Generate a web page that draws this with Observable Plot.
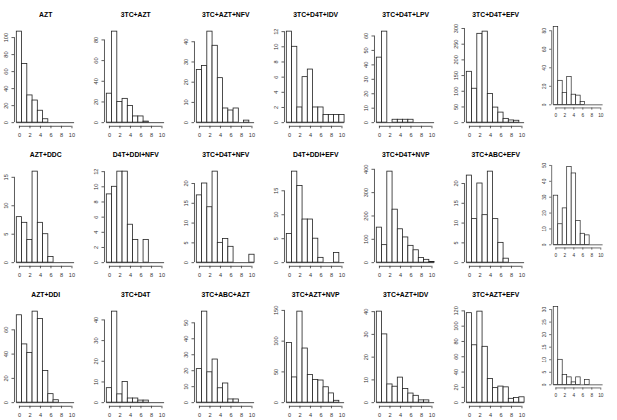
<!DOCTYPE html>
<html><head><meta charset="utf-8">
<script src="https://cdn.jsdelivr.net/npm/d3@7"></script>
<script src="https://cdn.jsdelivr.net/npm/@observablehq/plot@0.6"></script>
<style>
html,body{margin:0;padding:0;background:#fff;}
#grid{position:relative;width:617px;height:420px;overflow:hidden;background:#fff;}
#grid>div{position:absolute;}
</style></head><body><div id="grid"></div>
<script>
// Histogram bins (values centred on integers 0..10) and x tick labels
const bins = [0,1,2,3,4,5,6,7,8,9,10];
const xTicks = [0,2,4,6,8,10];

// Panel titles (row by row, 7 per row)
const titles = [
  "AZT","3TC+AZT","3TC+AZT+NFV","3TC+D4T+IDV","3TC+D4T+LPV","3TC+D4T+EFV","",
  "AZT+DDC","D4T+DDI+NFV","3TC+D4T+NFV","D4T+DDI+EFV","3TC+D4T+NVP","3TC+ABC+EFV","",
  "AZT+DDI","3TC+D4T","3TC+ABC+AZT","3TC+AZT+NVP","3TC+AZT+IDV","3TC+AZT+EFV",""
];

// Counts per bin
const cAZT        = [107,69,32,26,14,4,0,0,0,0,0];
const c3TC_AZT    = [28,88,20,23,16,6,6,1,0,0,0];
const c3TC_AZT_NFV= [26,28,45,38,22,7,6,7,0,1,0];
const c3TC_D4T_IDV= [12,10,2,6,7,2,2,1,1,1,1];
const c3TC_D4T_LPV= [45,63,0,2,2,2,2,0,0,0,0];
const c3TC_D4T_EFV= [162,108,283,290,91,48,32,12,7,6,0];
const cRow1Extra  = [84,26,13,30,11,10,3,0,0,0,0];
const cAZT_DDC    = [8,7,4,16,7,5,1,0,0,0,0];
const cD4T_DDI_NFV= [9,10,12,12,5,3,0,3,0,0,0];
const c3TC_D4T_NFV= [17,20,14,23,5,6,4,0,0,0,2];
const cD4T_DDI_EFV= [6,19,16,9,9,5,1,0,0,2,0];
const c3TC_D4T_NVP= [150,75,390,227,143,108,72,53,20,12,3];
const c3TC_ABC_EFV= [22,11,20,12,23,11,5,1,0,0,0];
const cRow2Extra  = [31,13,23,49,45,15,7,6,0,0,0];
const cAZT_DDI    = [72,48,41,75,69,26,7,2,0,0,0];
const c3TC_D4T    = [7,44,4,10,2,2,1,1,0,0,0];
const c3TC_ABC_AZT= [21,57,19,27,9,12,2,2,0,0,0];
const c3TC_AZT_NVP= [97,41,148,88,45,37,36,25,15,3,0];
const c3TC_AZT_IDV= [40,30,8,7,11,6,4,3,1,1,0];
const c3TC_AZT_EFV= [117,75,119,73,31,19,21,20,5,6,7];
const cRow3Extra  = [31,10,4,3,1,3,0,2,0,0,0];

// y tick labels per panel
const yt1 = [0,20,40,60,80,100];
const yt2 = [0,20,40,60,80];
const yt3 = [0,10,20,30,40];
const yt4 = [0,2,4,6,8,10,12];
const yt5 = [0,10,20,30,40,50,60];
const yt6 = [0,50,100,150,200,250,300];
const yt7 = [0,20,40,60,80];
const yt8 = [0,5,10,15];
const yt9 = [0,2,4,6,8,10,12];
const yt10 = [0,5,10,15,20];
const yt11 = [0,5,10,15];
const yt12 = [0,100,200,300,400];
const yt13 = [0,5,10,15,20];
const yt14 = [0,10,20,30,40,50];
const yt15 = [0,20,40,60];
const yt16 = [0,10,20,30,40];
const yt17 = [0,10,20,30,40,50];
const yt18 = [0,50,100,150];
const yt19 = [0,10,20,30,40];
const yt20 = [0,20,40,60,80,100,120];
const yt21 = [0,5,10,15,20,25,30];

const countsList = [cAZT,c3TC_AZT,c3TC_AZT_NFV,c3TC_D4T_IDV,c3TC_D4T_LPV,c3TC_D4T_EFV,cRow1Extra,
  cAZT_DDC,cD4T_DDI_NFV,c3TC_D4T_NFV,cD4T_DDI_EFV,c3TC_D4T_NVP,c3TC_ABC_EFV,cRow2Extra,
  cAZT_DDI,c3TC_D4T,c3TC_ABC_AZT,c3TC_AZT_NVP,c3TC_AZT_IDV,c3TC_AZT_EFV,cRow3Extra];
const yTicksList = [yt1,yt2,yt3,yt4,yt5,yt6,yt7,yt8,yt9,yt10,yt11,yt12,yt13,yt14,yt15,yt16,yt17,yt18,yt19,yt20,yt21];

// layout
const ML = 12, MR = 14, MT = 27.5, MB = 14.2;
const W = 88.4, H = 140;
const colPitch = 89.9, rowPitch = 139.85;
const grid = document.getElementById("grid");
const font = "'Liberation Sans', Arial, Helvetica, sans-serif";

titles.forEach((title, i) => {
  const col = i % 7, row = Math.floor(i / 7);
  const counts = countsList[i];
  const yTicks = yTicksList[i];
  const max = d3.max(counts);
  const data = bins.map((b, j) => ({bin: b, count: counts[j]}));
  const lo = bins[0] - 0.5, hi = bins[bins.length - 1] + 0.5;
  const pad = 0.04 * (hi - lo);
  const xDomain = [lo - pad, hi + pad];
  const yDomain = [-0.04 * max, 1.04 * max];
  const marks = [
    Plot.ruleY([0], {x1: lo, x2: hi, stroke: "#222", strokeWidth: 0.8}),
    Plot.rectY(data, {x1: d => d.bin - 0.5, x2: d => d.bin + 0.5, y1: 0, y2: "count",
      fill: "white", stroke: "#222", strokeWidth: 0.8}),
    Plot.ruleY([yDomain[0]], {x1: xTicks[0], x2: xTicks[xTicks.length - 1], stroke: "#333", strokeWidth: 0.8}),
    Plot.ruleX([xDomain[0]], {y1: yTicks[0], y2: yTicks[yTicks.length - 1], stroke: "#333", strokeWidth: 0.8}),
    Plot.axisX({ticks: xTicks, tickSize: 2.5, tickPadding: 4, label: null, stroke: "#333", fill: "#333", strokeWidth: 0.8}),
    Plot.axisY({ticks: yTicks, tickSize: 2.5, tickPadding: 4, tickRotate: -90, label: null, stroke: "#333", fill: "#333", strokeWidth: 0.8})
  ];
  if (title) {
    marks.push(Plot.text([title], {frameAnchor: "top", dy: -13.2, text: d => d,
      fontWeight: "bold", fontSize: 6.8, fill: "#000", lineAnchor: "middle"}));
  }
  const chart = Plot.plot({
    width: W, height: H,
    marginLeft: ML, marginRight: MR, marginTop: MT, marginBottom: MB,
    x: {domain: xDomain},
    y: {domain: yDomain},
    style: {fontFamily: font, fontSize: "5.6px", background: "transparent", overflow: "visible"},
    marks
  });
  const div = document.createElement("div");
  div.style.left = (19 + col * colPitch - ML - (bins[0] - xDomain[0]) * ((W - ML - MR) / (xDomain[1] - xDomain[0]))) + "px";
  div.style.top = (row * rowPitch) + "px";
  div.appendChild(chart);
  grid.appendChild(div);
});
</script>
</body></html>
